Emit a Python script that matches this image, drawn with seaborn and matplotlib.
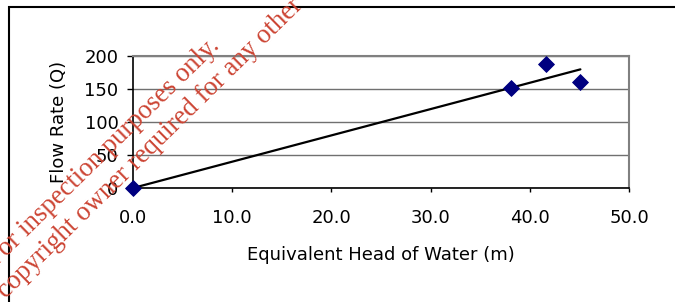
import numpy as np
import pandas as pd
import seaborn as sns
import matplotlib.pyplot as plt
from matplotlib.patches import Rectangle

# data
head_m = [0.0, 38.1, 41.6, 45.1]
flow_q = [0, 151, 188, 160]
x_ticks = [0, 10, 20, 30, 40, 50]
y_ticks = [0, 50, 100, 150, 200]

wm_line1 = "For inspection purposes only."
wm_line2 = "Consent of copyright owner required for any other use."

df = pd.DataFrame({'head': head_m, 'flow': flow_q})

sns.set_style('white')
plt.rcParams['font.family'] = ['DejaVu Sans']
plt.rcParams['text.color'] = 'black'
plt.rcParams['axes.labelcolor'] = 'black'

fig = plt.figure(figsize=(6.75, 3.02), dpi=100)
ax = fig.add_axes([133 / 675, 1 - 188 / 302, 496 / 675, 132 / 302])

# linear trendline forced through the origin (Excel style)
x = np.array(head_m)
y = np.array(flow_q)
slope = np.sum(x * y) / np.sum(x * x)
xs = np.array([0, x.max()])
ax.plot(xs, slope * xs, color='black', lw=1.6, zorder=3)

sns.scatterplot(data=df, x='head', y='flow', marker='D', s=65, color='#000080',
                edgecolor='#000080', ax=ax, zorder=4, clip_on=False)

ax.set_xlim(0, 50)
ax.set_ylim(0, 200)
ax.set_xticks(x_ticks)
ax.set_xticklabels([f'{v:.1f}' for v in x_ticks])
ax.set_yticks(y_ticks)
ax.set_yticklabels([str(v) for v in y_ticks])
ax.tick_params(axis='both', labelsize=13, colors='black', direction='out', width=1)
ax.tick_params(axis='x', bottom=True, length=3, pad=12)
ax.tick_params(axis='y', left=True, length=4.5, pad=6)

ax.grid(axis='y', color='#707070', lw=1)
ax.grid(axis='x', visible=False)
ax.set_axisbelow(True)
for side in ['top', 'right']:
    ax.spines[side].set_color('#808080')
    ax.spines[side].set_linewidth(1.5)
for side in ['left', 'bottom']:
    ax.spines[side].set_color('black')
    ax.spines[side].set_linewidth(1.2)

ax.set_xlabel('Equivalent Head of Water (m)', fontsize=13, labelpad=14)
ax.set_ylabel('Flow Rate (Q)', fontsize=13, labelpad=12)

# chart area border (runs off the right and bottom edges)
fig.patches.append(Rectangle((9 / 675, -0.1), 1.2, 1.1 - 7 / 302, transform=fig.transFigure,
                             fill=False, edgecolor='black', lw=1.5))

# watermark, cut by the picture edges as in the source
for txt, cx, cy in [(wm_line1, 104, 153), (wm_line2, 124, 174)]:
    fig.text(cx / 675, 1 - cy / 302, txt, family=['Liberation Serif', 'DejaVu Serif'],
             fontsize=19.3, color='#cc4433', rotation=44.5, rotation_mode='anchor',
             ha='center', va='center', zorder=10)

plt.savefig('out.png', dpi=100)
plt.close()
